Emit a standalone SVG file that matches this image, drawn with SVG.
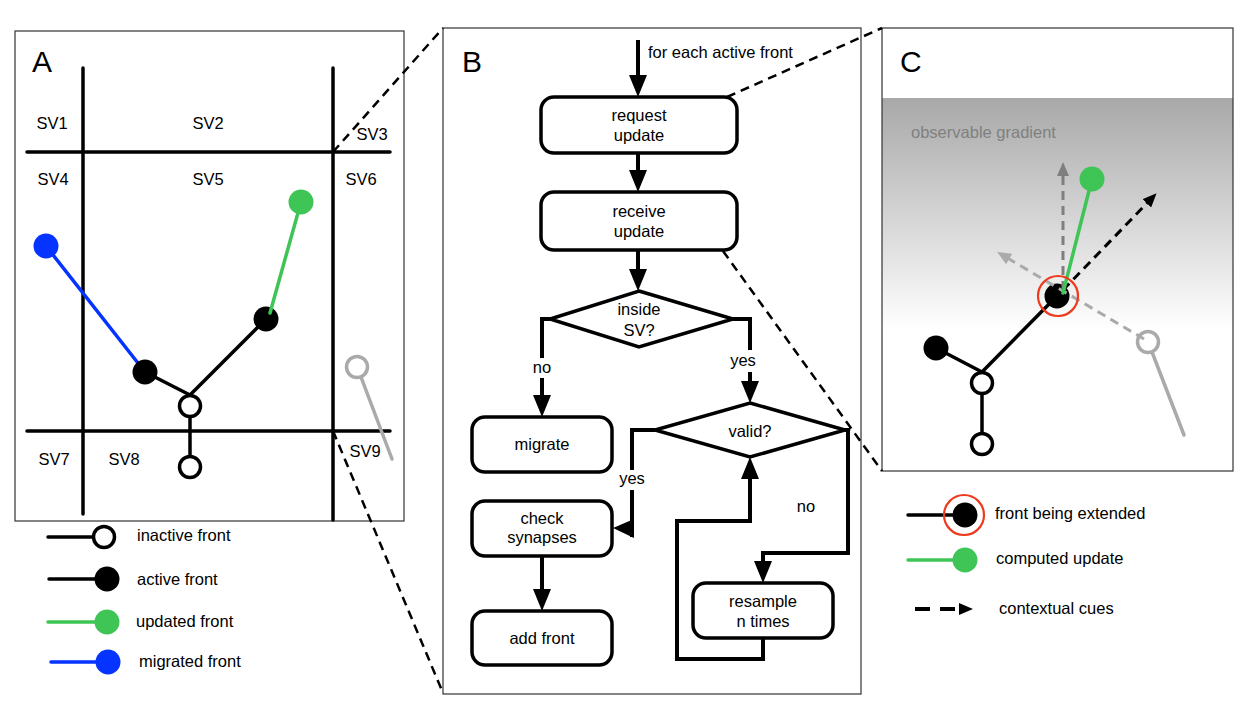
<svg xmlns="http://www.w3.org/2000/svg" width="1250" height="717" viewBox="0 0 1250 717">
  <style>
    text { font-family: "Liberation Sans", Arial, sans-serif; font-size: 16.5px; fill: #000; }
    .panel-letter { font-size: 30px; }
    .mid { text-anchor: middle; }
    .frame { fill: none; stroke: #333; stroke-width: 1.2; }
    .grid { stroke: #000; stroke-width: 3.5; stroke-linecap: round; fill: none; }
    .link { stroke: #000; stroke-width: 3.5; fill: none; stroke-linecap: round; }
    .link-green { stroke: #3ec555; stroke-width: 3.5; fill: none; stroke-linecap: round; }
    .link-blue { stroke: #0533ff; stroke-width: 3.5; fill: none; stroke-linecap: round; }
    .link-gray { stroke: #aaa; stroke-width: 3.5; fill: none; stroke-linecap: round; }
    .active { fill: #000; }
    .inactive { fill: #fff; stroke: #000; stroke-width: 3.5; }
    .inactive-gray { fill: none; stroke: #aaa; stroke-width: 3.5; }
    .updated { fill: #3ec555; }
    .migrated { fill: #0533ff; }
    .ring { fill: none; stroke: #ee3a1e; stroke-width: 2.2; }
    .zoomline { stroke: #000; stroke-width: 2.5; stroke-dasharray: 9 6; fill: none; }
    .step { fill: #fff; stroke: #000; stroke-width: 3.5; }
    .flow { stroke: #000; stroke-width: 4; fill: none; }
    .cue { stroke-width: 3; stroke-dasharray: 9 6; fill: none; }
    .hint { fill: #808080; }
  </style>
  <defs>
    <marker id="head" markerUnits="userSpaceOnUse" markerWidth="22" markerHeight="18" refX="12" refY="9" orient="auto">
      <path d="M0,0 L22,9 L0,18 z" fill="#000"/>
    </marker>
    <marker id="cue-black" markerUnits="userSpaceOnUse" markerWidth="14" markerHeight="12" refX="6" refY="6" orient="auto">
      <path d="M0,0 L14,6 L0,12 z" fill="#000"/>
    </marker>
    <marker id="cue-dark" markerUnits="userSpaceOnUse" markerWidth="14" markerHeight="12" refX="6" refY="6" orient="auto">
      <path d="M0,0 L14,6 L0,12 z" fill="#7f7f7f"/>
    </marker>
    <marker id="cue-light" markerUnits="userSpaceOnUse" markerWidth="14" markerHeight="12" refX="6" refY="6" orient="auto">
      <path d="M0,0 L14,6 L0,12 z" fill="#aaa"/>
    </marker>
    <linearGradient id="gradient-field" x1="0" y1="0" x2="0" y2="1">
      <stop offset="0" stop-color="#a8a8a8"/>
      <stop offset="0.62" stop-color="#ffffff"/>
      <stop offset="1" stop-color="#ffffff"/>
    </linearGradient>
  </defs>

  <rect width="1250" height="717" fill="#fff"/>

  <!-- Panel A: subvolume grid with a growing arbor -->
  <g id="panel-a">
    <rect class="frame" x="15" y="31" width="389" height="490" fill="#fff"/>
    <text class="panel-letter" x="32" y="72">A</text>
    <line class="grid" x1="83" y1="68" x2="83" y2="514"/>
    <line class="grid" x1="333" y1="68" x2="333" y2="520"/>
    <line class="grid" x1="27" y1="152" x2="390" y2="152"/>
    <line class="grid" x1="27" y1="431" x2="390" y2="431"/>
    <text class="mid" x="52" y="129">SV1</text>
    <text class="mid" x="208" y="129">SV2</text>
    <text class="mid" x="372" y="140">SV3</text>
    <text class="mid" x="53" y="185">SV4</text>
    <text class="mid" x="208" y="185">SV5</text>
    <text class="mid" x="361" y="185">SV6</text>
    <text class="mid" x="54" y="465">SV7</text>
    <text class="mid" x="124" y="465">SV8</text>
    <text class="mid" x="365" y="457">SV9</text>
  </g>

  <g id="arbor-a">
    <line class="link-blue" x1="46" y1="246" x2="145" y2="372"/>
    <line class="link" x1="145" y1="372" x2="190" y2="395"/>
    <line class="link" x1="266" y1="319" x2="190" y2="395"/>
    <line class="link" x1="190" y1="406" x2="190" y2="467"/>
    <line class="link-gray" x1="361" y1="377" x2="392" y2="459"/>
    <circle class="migrated" cx="46" cy="246" r="12.5"/>
    <circle class="active" cx="145" cy="372" r="12.5"/>
    <circle class="active" cx="266" cy="319" r="12.5"/>
    <line class="link-green" x1="301" y1="202" x2="270" y2="313"/>
    <circle class="updated" cx="301" cy="202" r="12.5"/>
    <circle class="inactive" cx="190" cy="406" r="10.5"/>
    <circle class="inactive" cx="190" cy="467" r="10.5"/>
    <circle class="inactive-gray" cx="357" cy="367" r="10.5"/>
  </g>

  <!-- Legend for panel A -->
  <g id="legend-a">
    <line class="link" x1="48" y1="537" x2="100" y2="537"/>
    <circle class="inactive" cx="104" cy="537" r="10.5"/>
    <text x="137" y="541">inactive front</text>
    <line class="link" x1="49" y1="579" x2="100" y2="579"/>
    <circle class="active" cx="107" cy="579" r="12.5"/>
    <text x="137" y="585">active front</text>
    <line class="link-green" x1="48" y1="622" x2="100" y2="622"/>
    <circle class="updated" cx="107" cy="622" r="12.5"/>
    <text x="136" y="627">updated front</text>
    <line class="link-blue" x1="51" y1="662" x2="100" y2="662"/>
    <circle class="migrated" cx="108" cy="662" r="12.5"/>
    <text x="139" y="667">migrated front</text>
  </g>

  <!-- Panel B: per-front update loop -->
  <g id="panel-b">
    <rect class="frame" x="443" y="28" width="418" height="666" fill="#fff"/>
    <text class="panel-letter" x="462" y="72">B</text>
  </g>

  <g id="step-request">
    <rect class="step" x="541" y="97" width="196" height="56" rx="13"/>
    <text class="mid" x="639" y="121">request</text>
    <text class="mid" x="639" y="141">update</text>
  </g>
  <g id="step-receive">
    <rect class="step" x="541" y="192" width="196" height="58" rx="13"/>
    <text class="mid" x="639" y="217">receive</text>
    <text class="mid" x="639" y="237">update</text>
  </g>
  <g id="test-inside">
    <polygon class="step" points="639,291 733,319 639,347 550,319"/>
    <text class="mid" x="639" y="315">inside</text>
    <text class="mid" x="639" y="336">SV?</text>
  </g>
  <g id="step-migrate">
    <rect class="step" x="472" y="417" width="140" height="55" rx="13"/>
    <text class="mid" x="542" y="450">migrate</text>
  </g>
  <g id="test-valid">
    <polygon class="step" points="750,403 845,430 750,457 655,430"/>
    <text class="mid" x="750" y="437">valid?</text>
  </g>
  <g id="step-check">
    <rect class="step" x="472" y="501" width="140" height="55" rx="13"/>
    <text class="mid" x="542" y="524">check</text>
    <text class="mid" x="542" y="543">synapses</text>
  </g>
  <g id="step-add">
    <rect class="step" x="472" y="611" width="140" height="54" rx="13"/>
    <text class="mid" x="542" y="644">add front</text>
  </g>
  <g id="step-resample">
    <rect class="step" x="693" y="583" width="140" height="55" rx="13"/>
    <text class="mid" x="763" y="607">resample</text>
    <text class="mid" x="763" y="627">n times</text>
  </g>

  <g id="flow-connectors">
    <line class="flow" x1="638" y1="40" x2="638" y2="87" marker-end="url(#head)"/>
    <text x="648" y="58">for each active front</text>
    <line class="flow" x1="638" y1="153" x2="638" y2="182" marker-end="url(#head)"/>
    <line class="flow" x1="638" y1="250" x2="638" y2="281" marker-end="url(#head)"/>
    <path class="flow" d="M550,319 H542 V407" marker-end="url(#head)"/>
    <rect x="530" y="358" width="24" height="20" fill="#fff"/>
    <text class="mid" x="542" y="373">no</text>
    <path class="flow" d="M733,319 H750 V393" marker-end="url(#head)"/>
    <rect x="729" y="350" width="28" height="22" fill="#fff"/>
    <text class="mid" x="743" y="366">yes</text>
    <path class="flow" d="M655,430 H632 V537"/>
    <polygon points="613,528 634,519 634,538" fill="#000"/>
    <rect x="618" y="470" width="28" height="20" fill="#fff"/>
    <text class="mid" x="632" y="484">yes</text>
    <line class="flow" x1="542" y1="556" x2="542" y2="601" marker-end="url(#head)"/>
    <path class="flow" d="M845,430 H848 V553 H763 V573" marker-end="url(#head)"/>
    <text class="mid" x="806" y="512">no</text>
    <path class="flow" d="M763,638 V659 H677 V521 H750 V467" marker-end="url(#head)"/>
  </g>

  <!-- Panel C: cues acting on the extended front -->
  <g id="panel-c">
    <rect x="882" y="98" width="351" height="374" fill="url(#gradient-field)"/>
    <rect class="frame" x="882" y="28" width="351" height="443"/>
    <text class="panel-letter" x="900" y="72">C</text>
    <text class="hint" x="911" y="138">observable gradient</text>
  </g>

  <g id="arbor-c">
    <line class="link" x1="936" y1="348" x2="982" y2="372"/>
    <line class="link" x1="1057" y1="296" x2="982" y2="372"/>
    <line class="link" x1="982" y1="383" x2="982" y2="444"/>
    <line class="link-gray" x1="1152" y1="352" x2="1184" y2="435"/>
    <circle class="active" cx="936" cy="348" r="12.5"/>
    <circle class="inactive" cx="982" cy="383" r="10.5"/>
    <circle class="inactive" cx="982" cy="444" r="10.5"/>
    <circle class="inactive-gray" cx="1148" cy="342" r="10.5"/>
    <circle class="active" cx="1057" cy="296" r="12.5"/>
    <line class="cue" stroke="#aaa" x1="1144" y1="339" x2="1004" y2="256" marker-end="url(#cue-light)"/>
    <line class="cue" stroke="#7f7f7f" x1="1063" y1="290" x2="1063" y2="170" marker-end="url(#cue-dark)"/>
    <line class="cue" stroke="#000" x1="1063" y1="290" x2="1151" y2="199" marker-end="url(#cue-black)"/>
    <line class="link-green" x1="1092" y1="179" x2="1063" y2="293"/>
    <circle class="updated" cx="1092" cy="179" r="12.5"/>
    <circle class="ring" cx="1058" cy="296" r="20"/>
  </g>

  <!-- Legend for panel C -->
  <g id="legend-c">
    <line class="link" x1="908" y1="515" x2="958" y2="515"/>
    <circle class="active" cx="965" cy="515" r="12.5"/>
    <circle class="ring" cx="964" cy="515" r="20"/>
    <text x="995" y="519">front being extended</text>
    <line class="link-green" x1="908" y1="560" x2="958" y2="560"/>
    <circle class="updated" cx="965" cy="560" r="12.5"/>
    <text x="996" y="564">computed update</text>
    <line stroke="#000" stroke-width="4" stroke-dasharray="15 10" x1="915" y1="609" x2="965" y2="609" marker-end="url(#cue-black)"/>
    <text x="999" y="614">contextual cues</text>
  </g>

  <!-- Zoom guides between panels -->
  <g id="zoom-connectors">
    <line class="zoomline" x1="333" y1="152" x2="443" y2="28"/>
    <line class="zoomline" x1="333" y1="431" x2="443" y2="693"/>
    <line class="zoomline" x1="727" y1="97" x2="882" y2="28"/>
    <line class="zoomline" x1="723" y1="251" x2="882" y2="471"/>
  </g>
</svg>
